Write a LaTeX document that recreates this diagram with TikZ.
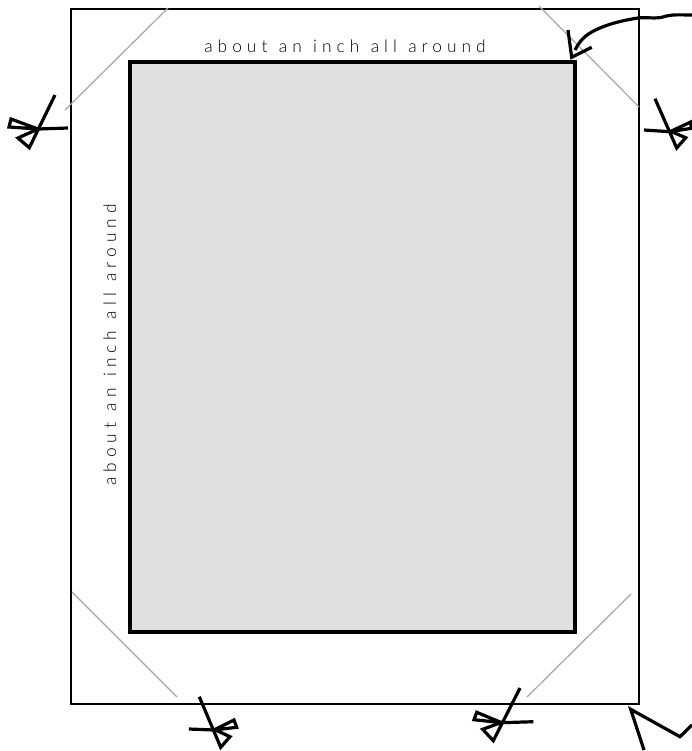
\documentclass[tikz,border=0pt]{standalone}
\usepackage{fontspec}
\newfontfamily\labfont[LetterSpace=29,WordSpace=1.17]{Lato Light}
\begin{document}
\begin{tikzpicture}[x=0.75pt,y=-0.75pt,
  ink/.style={draw=black,line width=2.4pt,line join=miter},
  sheet/.style={draw=black,line width=2.1pt},
  panel/.style={draw=black,line width=3.2pt,fill=panelgray},
  cutline/.style={draw=cutgray,line width=0.9pt},
  lab/.style={inner sep=0pt,text=black,font=\labfont\fontsize{13pt}{15pt}\selectfont}]
\definecolor{panelgray}{HTML}{E0E0E0}
\definecolor{cutgray}{HTML}{A6A6A6}
\useasboundingbox (0,0) rectangle (692,751);
\draw[sheet] (71,9) rectangle (639,704);
\draw[panel] (130,62) rectangle (575,632);
\draw[cutline] (168,8) -- (65,110);
\draw[cutline] (539,6) -- (639,107);
\draw[cutline] (72,592) -- (177,697);
\draw[cutline] (631,594) -- (527,697);
\node[lab] (toplab) at (345,46) {about an inch all around};
\node[lab,rotate=90] (leftlab) at (110,345) {about an inch all around};
% left scissors
\draw[ink] (55,95) -- (29.3,147.7) -- (18,138) -- (38,129);
\draw[ink] (68,128) -- (38,129) -- (11,119) -- (9,127) -- (38,129);
% top right scissors
\draw[ink] (655,98.7) -- (676.7,148) -- (685.7,137.7) -- (670,131);
\draw[ink] (644,130) -- (670,131.7) -- (690.7,122) -- (691.3,128.3) -- (670,131.7);
% bottom right scissors
\draw[ink] (520,688) -- (493.3,740.7) -- (482.7,729.3) -- (501.7,722.3);
\draw[ink] (533.3,721.7) -- (501.7,722.7) -- (476.7,712.3) -- (474,719.7) -- (501.7,722.7);
% bottom left scissors
\draw[ink] (199.3,696.7) -- (220.7,747.3) -- (230,736.7) -- (214,729.3);
\draw[ink] (189,729) -- (214,730) -- (234,720) -- (236.7,727.3) -- (214,730);
% hand-drawn arrow
\draw[ink] (692,15) .. controls (680,15) and (672,14) .. (663,17) .. controls (655,19) and (648,17) .. (638,18) .. controls (625,20) and (605,24) .. (590,33) .. controls (582,38) and (578,44) .. (575,50);
\draw[ink] (568,30) -- (571.7,57.3) -- (591.7,47.3);
% bottom right corner mark
\draw[ink] (644,750) -- (630.7,709.3) -- (680,736.7) -- (692,725);
\end{tikzpicture}
\end{document}
